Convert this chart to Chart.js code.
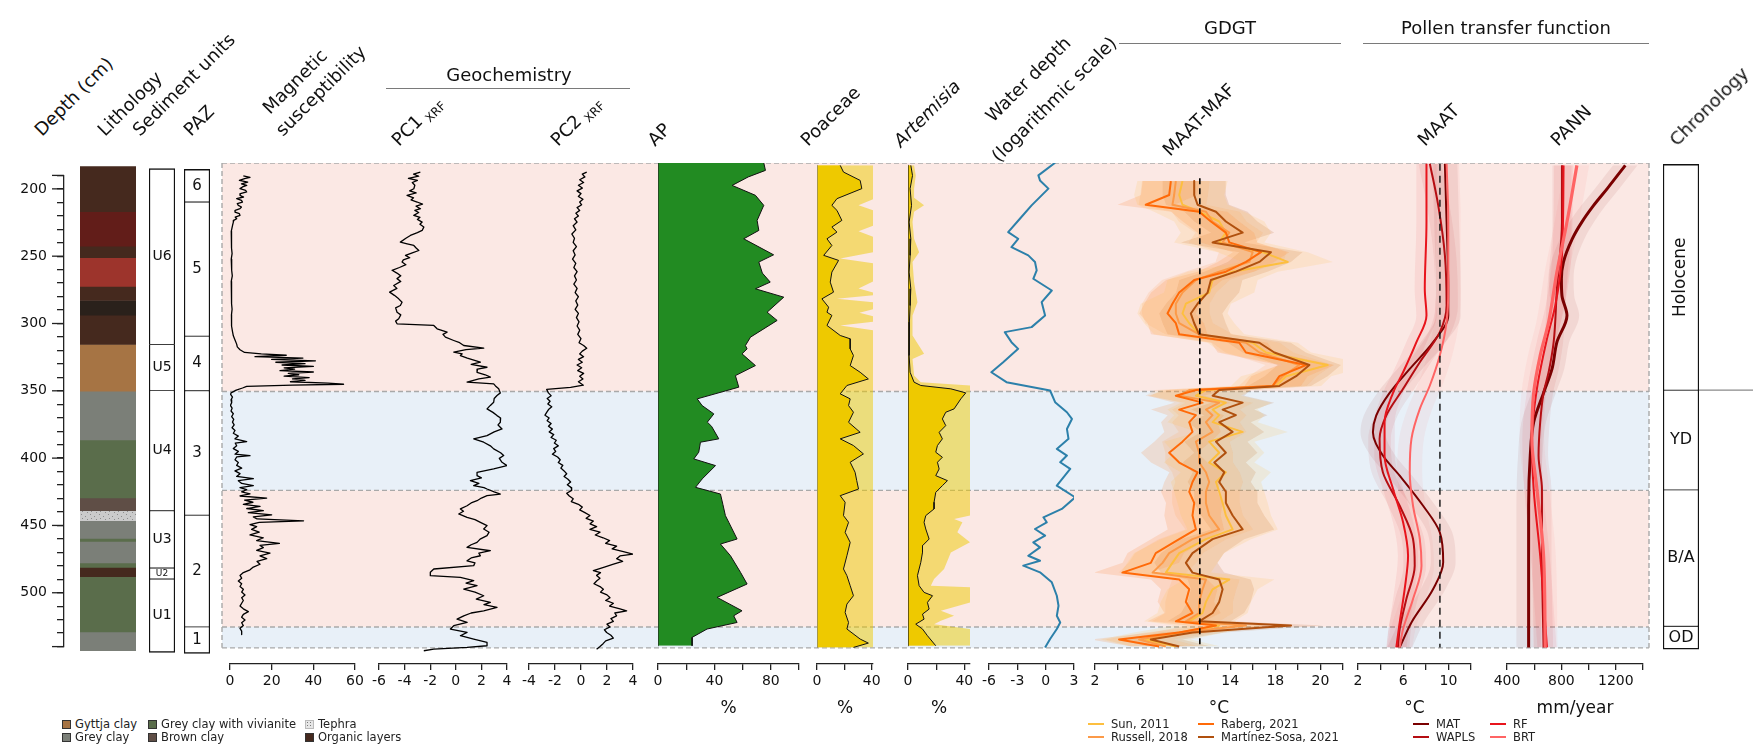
<!DOCTYPE html>
<html><head><meta charset="utf-8"><title>Core stratigraphy</title>
<script src="https://cdn.jsdelivr.net/npm/chart.js@4.4.1/dist/chart.umd.min.js"></script>
<style>
html,body{margin:0;padding:0;background:#fff;}
body{position:relative;width:1755px;height:748px;overflow:hidden;font-family:'DejaVu Sans',sans-serif;color:#111;}
#charts{position:absolute;left:0;top:0;width:1755px;height:748px;}
canvas{position:absolute;}
.hdr{position:absolute;white-space:nowrap;font-size:18px;line-height:18px;transform-origin:0 15px;transform:rotate(-45deg);}
.sub{font-size:12px;position:relative;top:5px;margin-left:4px;}
.grp{position:absolute;font-size:18px;line-height:18px;transform:translate(-50%,-50%);white-space:nowrap;}
.gline{position:absolute;height:0;border-top:1.5px solid #7a7a7a;}
.leg{position:absolute;font-size:11.5px;line-height:13px;white-space:nowrap;color:#222;}
.sw{display:inline-block;width:7px;height:7px;border:1px solid #333;margin-right:4px;vertical-align:-0.5px;}
.ln{display:inline-block;width:16px;height:0;border-top:2.5px solid;margin-right:7px;vertical-align:3px;}
</style></head><body>
<div id="charts"></div>

<div class="hdr" style="left:42px;top:122px">Depth (cm)</div>
<div class="hdr" style="left:105px;top:122px">Lithology</div>
<div class="hdr" style="left:140px;top:122px">Sediment units</div>
<div class="hdr" style="left:191px;top:122px">PAZ</div>
<div class="hdr" style="left:270px;top:100px">Magnetic</div>
<div class="hdr" style="left:283px;top:122px">susceptibility</div>
<div class="hdr" style="left:399px;top:132px">PC1<span class="sub">XRF</span></div>
<div class="hdr" style="left:558px;top:132px">PC2<span class="sub">XRF</span></div>
<div class="hdr" style="left:655px;top:132px">AP</div>
<div class="hdr" style="left:808px;top:132px">Poaceae</div>
<div class="hdr" style="left:901px;top:133px;font-style:italic">Artemisia</div>
<div class="hdr" style="left:993px;top:108px">Water depth</div>
<div class="hdr" style="left:999px;top:148px">(logarithmic scale)</div>
<div class="hdr" style="left:1170px;top:142px">MAAT-MAF</div>
<div class="hdr" style="left:1425px;top:132px">MAAT</div>
<div class="hdr" style="left:1558px;top:132px">PANN</div>
<div class="hdr" style="left:1677px;top:132px">Chronology</div>

<div class="grp" style="left:509px;top:75px">Geochemistry</div>
<div class="gline" style="left:386px;top:88px;width:244px"></div>
<div class="grp" style="left:1230px;top:28px">GDGT</div>
<div class="gline" style="left:1119px;top:43px;width:222px"></div>
<div class="grp" style="left:1506px;top:28px">Pollen transfer function</div>
<div class="gline" style="left:1363px;top:43px;width:286px"></div>

<div class="leg" style="left:62px;top:718px"><span class="sw" style="background:#a67444"></span>Gyttja clay</div>
<div class="leg" style="left:148px;top:718px"><span class="sw" style="background:#5a6d4b"></span>Grey clay with vivianite</div>
<div class="leg" style="left:305px;top:718px"><span class="sw" style="background:#e6e6e6 radial-gradient(#777 35%,transparent 40%) 0 0/3px 3px;border-color:#bbb"></span>Tephra</div>
<div class="leg" style="left:62px;top:731px"><span class="sw" style="background:#7b7f78"></span>Grey clay</div>
<div class="leg" style="left:148px;top:731px"><span class="sw" style="background:#5f4e46"></span>Brown clay</div>
<div class="leg" style="left:305px;top:731px"><span class="sw" style="background:#45291e"></span>Organic layers</div>

<div class="leg" style="left:1088px;top:718px"><span class="ln" style="border-color:#fdbf3f"></span>Sun, 2011</div>
<div class="leg" style="left:1198px;top:718px"><span class="ln" style="border-color:#ff6a08"></span>Raberg, 2021</div>
<div class="leg" style="left:1088px;top:731px"><span class="ln" style="border-color:#fc9a48"></span>Russell, 2018</div>
<div class="leg" style="left:1198px;top:731px"><span class="ln" style="border-color:#b0500e"></span>Martínez-Sosa, 2021</div>
<div class="leg" style="left:1413px;top:718px"><span class="ln" style="border-color:#7a0000"></span>MAT</div>
<div class="leg" style="left:1490px;top:718px"><span class="ln" style="border-color:#e8141c"></span>RF</div>
<div class="leg" style="left:1413px;top:731px"><span class="ln" style="border-color:#b50d12"></span>WAPLS</div>
<div class="leg" style="left:1490px;top:731px"><span class="ln" style="border-color:#ff6464"></span>BRT</div>

<script>
// ====================== DATA ======================
// climate-zone shading (depth, cm)
const bandBounds = [187, 351, 422, 520, 535];
const bandKinds  = ['warm', 'cold', 'warm', 'cold'];

// lithology column
const lithoBounds = [189.5,222,246.7,255,275.6,285.7,296.3,317.3,350.8,385.7,427.4,436.6,443.7,456.4,458.6,474.1,477.3,484,523.5,537];
const lithoKinds  = ['org','orgRed','org','orgRed2','org','orgDark','org','gyttja','grey','viv','brown','tephra','grey','viv','grey','viv','org','viv','grey'];

// sediment units, pollen assemblage zones, chronology
const unitBounds   = [191,317.3,350.4,436.6,477.7,485.6,538.3];
const unitLabels   = ['U6','U5','U4','U3','U2','U1'];
const pazBounds    = [191.5,215,311.3,350.5,439.7,519.9,539];
const pazLabels    = ['6','5','4','3','2','1'];
const chronoBounds = [188,350,421.6,519.5,536];
const chronoLabels = ['Holocene','YD','B/A','OD'];

// magnetic susceptibility [depth, value]
const magSus = [[196.3,6.4],[197.3,9.6],[198.3,7],[199.5,4.5],[200.7,8.5],[201.9,5.5],[203.1,8],[204.2,6],[205.4,4.8],[206.6,7.5],[207.8,8],[209,5],[210.2,4.8],[211.4,6.5],[212.6,3.2],[213.8,5.5],[215,6],[216.2,3.5],[217.4,4],[218.6,5.5],[219.8,4.8],[221,2.5],[222.2,2.4],[223.4,4.5],[224.6,4.8],[225.8,2.5],[227,3.2],[228.2,1.8],[229.4,1.6],[232,1.2],[236,0.6],[240,0.9],[244,0.5],[248,0.8],[252,1.0],[256,0.6],[260,0.9],[264,0.7],[268,1.1],[272,0.6],[276,0.8],[280,0.9],[284,0.5],[288,0.8],[292,1.0],[296,0.7],[300,0.6],[304,0.9],[308,1.2],[311,1.6],[314,2.4],[317,3.2],[319,3.5],[321,4.8],[323,7],[324,15],[325,27],[326,12],[327,35],[328,20],[329,41],[330,22],[331,36],[332,25],[333,40],[334,26],[335,31],[336,24],[337,40],[338,28],[339,33],[340,26],[341,38],[342,30],[343,36],[344,29],[345,47],[345.8,54.5],[346.5,30],[347.3,8],[348.5,6],[350,3],[352,0.5],[353,0.3],[355,1.2],[357,0.5],[359,0.8],[361,0.2],[363,1.0],[365,0.5],[367,1.6],[369,0.8],[371,1.8],[373,1.2],[375,2.0],[377,1.0],[379,2.4],[381,1.6],[383,4.0],[385,2.4],[387,8.0],[388,2.5],[390,3.2],[392,1.6],[394,4.0],[396,2.4],[397,9.6],[398,3.2],[400,2.4],[402,4.0],[404,3.2],[406,5.6],[408,2.4],[410,4.8],[412,3.2],[413.5,11.2],[415,4.0],[417,5.6],[418.5,11.2],[420,4.8],[421.5,8],[423,5.6],[424.5,9.6],[426,4.8],[427.5,17.6],[429,7],[430.5,11],[432,6.4],[433.5,14.4],[435,8],[436.5,16],[438,8.8],[439.5,20],[441,11.2],[442.5,13],[443.8,35.3],[445,14],[446.5,9.6],[448,12.8],[450,10.4],[452,14],[454,9.6],[456,16],[458,12.8],[460,23.7],[461.5,14.4],[463,16],[465,12.8],[467,19.2],[469,14.4],[471,17.6],[473,13],[475,14.4],[477,11.2],[479,9.6],[481,6.4],[483,4.8],[485,5.6],[487,4.0],[489,5.6],[491,4.8],[493,6.4],[495,5.6],[497,7.2],[499,5.6],[501,6.4],[503,5.6],[505,4.8],[507,6.4],[509,8.8],[511,6.4],[513,5.6],[515,7.2],[517,5.6],[519,6.4],[521,4.8],[523,5.6],[525.5,5.6]];

// XRF principal components [depth, score]
const pc1 = [[193.5,-2.77],[195,-3.3],[196.5,-2.9],[198,-3.7],[199.5,-3.0],[201,-3.4],[203,-3.2],[205.5,-3.28],[207,-3.6],[208.5,-3.1],[210.2,-3.81],[212,-3.3],[213.5,-3.5],[215,-3.02],[216.5,-2.6],[218,-3.1],[219.8,-2.76],[221,-3.2],[222.5,-2.9],[224.6,-3.28],[226,-2.8],[227.5,-3.0],[229.4,-2.63],[231,-2.8],[233,-2.5],[235.4,-2.63],[237,-3.0],[239,-3.55],[241,-3.9],[243.8,-4.33],[245,-3.8],[246.2,-3.28],[248,-3.1],[249.8,-2.89],[251.5,-3.4],[253.3,-3.93],[255,-3.6],[256.5,-4.1],[258.1,-4.2],[260,-3.9],[262,-4.4],[264,-4.98],[266,-4.6],[268,-4.3],[270,-4.59],[272,-4.3],[274.9,-4.85],[277,-4.6],[279.7,-5.17],[282,-4.8],[284.5,-4.46],[287,-4.2],[289.3,-4.33],[291,-4.7],[294.1,-4.59],[296,-4.3],[298.8,-4.46],[300.5,-4.7],[302.4,-4.59],[303.6,-1.72],[306,-1.46],[308.4,-0.68],[310,-1.0],[312,-0.81],[314.4,-0.16],[316,0.3],[318,0.62],[319.9,2.18],[321,0.8],[322.8,-0.16],[324,0.5],[325.2,0.36],[327,0.9],[330,1.92],[331.5,1.2],[333.6,2.44],[335,1.7],[337.2,1.66],[339,2.3],[340.7,2.7],[342,1.8],[344.3,0.88],[345.5,2.96],[347,3.1],[349.1,3.35],[352,3.48],[353.9,3.22],[356,3.0],[358.7,2.96],[361,2.7],[363.5,2.44],[366,2.9],[368.3,3.22],[370,3.5],[373.1,3.48],[375,3.3],[377.9,3.61],[380,3.0],[382.7,2.44],[385,1.4],[387.4,2.18],[390,2.7],[392.2,2.96],[395,3.5],[397,3.74],[399,3.4],[401.8,3.61],[404.2,4.0],[406.6,2.96],[409,1.66],[411.4,1.66],[413,2.0],[415,1.14],[417,1.8],[418.6,1.4],[420,2.2],[421,2.44],[423,3.0],[424.6,3.48],[425.8,2.44],[427.5,2.0],[429.4,1.66],[431,1.2],[433,0.88],[435.3,0.36],[437,0.6],[438.9,0.23],[441.3,0.88],[443,1.5],[444.9,1.92],[447.3,2.44],[449.7,2.18],[452,2.6],[454.5,2.44],[457,1.9],[459.3,1.66],[461,1.2],[462.9,0.88],[465.3,2.7],[467,1.8],[468.9,1.92],[470.5,1.2],[472.5,0.88],[474,1.5],[476,1.4],[478.4,-1.72],[480.8,-1.99],[483.2,-1.99],[484.4,0.36],[486.8,1.4],[488.5,0.8],[490.4,1.66],[492.8,0.62],[495,1.5],[497.6,2.18],[500,1.6],[502.4,2.7],[504,2.2],[506,3.22],[508.4,2.18],[510,1.2],[512,0.62],[514.4,0.1],[516.8,0.88],[519.1,-0.16],[521.5,-0.42],[523.9,0.88],[526.3,0.36],[528.7,1.4],[531.1,2.44],[533.5,2.44],[534.7,0.88],[535.9,-1.72],[537.1,-2.5]];
const pc2 = [[193.5,0.44],[195,0.1],[197,0.3],[199,-0.1],[201,0.2],[203,-0.2],[205,0.1],[207,-0.3],[209,0.0],[211,-0.2],[213,0.15],[215,-0.1],[217,0.05],[219,-0.3],[221,-0.1],[223,-0.4],[225,-0.2],[227,-0.5],[229.4,-0.3],[232,-0.6],[235,-0.4],[238,-0.7],[241,-0.5],[244,-0.6],[247,-0.35],[250,-0.6],[253,-0.45],[256,-0.65],[259,-0.4],[262,-0.55],[265,-0.3],[268,-0.5],[271,-0.35],[274,-0.55],[277,-0.3],[280,-0.45],[283,-0.2],[286,-0.4],[289,-0.25],[292,-0.45],[295,-0.2],[298,-0.35],[301,-0.15],[304,-0.3],[307,-0.1],[310,-0.25],[313,0.0],[316,-0.15],[318,0.2],[320,0.44],[322,0.1],[324,-0.1],[326,0.2],[328,-0.2],[330,0.1],[332,-0.3],[334,0.05],[336,-0.25],[338,0.2],[340,-0.1],[342,0.15],[344,-0.2],[346.5,0.18],[348,-0.8],[349.5,-2.64],[352,-2.51],[354,-2.3],[356,-2.6],[358,-2.38],[360,-2.55],[362,-2.25],[364,-2.5],[366,-2.64],[368,-2.77],[370,-2.45],[372,-2.6],[374,-2.3],[376,-2.5],[378,-2.2],[380,-2.45],[382,-2.1],[384,-2.3],[386,-1.9],[388,-2.05],[390,-1.75],[392,-2.1],[394,-1.95],[396,-2.2],[398,-1.8],[400,-1.6],[402,-1.75],[404,-1.4],[406,-1.55],[408,-1.3],[410,-1.1],[412,-1.3],[414,-1.0],[416,-0.8],[418,-1.05],[420,-0.75],[422,-0.72],[424,-1.1],[426,-0.9],[428,-0.6],[430,-0.75],[432,-0.2],[434,0.1],[436,-0.1],[438,0.3],[440,0.69],[442,0.4],[444,0.95],[446,0.7],[448,1.2],[450,0.69],[452,1.46],[454,1.1],[456,1.7],[458,2.2],[460,1.9],[462,2.74],[464,2.4],[466,3.26],[467.7,4.0],[469,3.0],[471,2.74],[473,3.2],[475,2.5],[477,1.8],[479.6,0.95],[481,1.5],[483,1.2],[485,1.46],[487,1.2],[489,1.0],[491,1.46],[493,1.72],[495,1.5],[497,2.0],[499,2.23],[501,1.9],[503,2.49],[505,2.2],[507,3.0],[508.4,3.51],[510,2.6],[512,2.74],[514,2.3],[516,2.49],[518,2.0],[520,2.23],[522,1.8],[524,1.97],[526,2.3],[528,2.49],[530,1.9],[532,1.7],[534,1.46],[536,1.2]];

// pollen percentages [depth, %]
const apPct = [[186.8,75],[192.3,76.2],[197,64],[203.1,52.6],[210.2,69.1],[217.4,75],[228.2,70.3],[235.4,71.5],[241.4,60.8],[252.9,82],[258.1,71.5],[266,74],[272.5,79.6],[277.3,69.1],[283.3,89.2],[294.1,77.4],[300,84.5],[312,65.6],[318,62],[320.4,63.2],[324,59.6],[332.4,69.1],[339.6,54.9],[347.9,57.3],[356.3,27.8],[361.1,31.3],[367.1,39.6],[373,35],[376,38],[385,43.1],[387.4,30.1],[394.6,28.9],[399.4,25.4],[404.2,40.8],[413.8,31.3],[419.8,26.6],[424.6,44.3],[432,46],[440.1,47.8],[444.9,50.2],[456.9,56.1],[460.5,44.3],[468.9,51.4],[480.8,58.5],[489.2,63.2],[498.8,41.9],[508.4,59.6],[512,53.7],[516.8,56.1],[521.5,34.8],[527.5,24.2],[533.5,24.2]];
const poaceaePct = [[188.7,17],[193.5,19.4],[199.5,31.6],[205.4,32.8],[212.6,14.6],[217.4,10.9],[221,14.6],[228.2,18.2],[233,10.9],[236.6,14.6],[241.4,7.3],[246.2,10.9],[253.3,4.9],[256.9,15.8],[265.3,10.9],[272.5,9.7],[279.7,12.1],[284.5,3.6],[290.5,8.5],[294.1,7.3],[296.4,10.9],[303.6,7.3],[310.8,17],[313.2,24.3],[320.4,24.3],[325.2,26.7],[332.4,24.3],[337.2,31.6],[342,37.6],[346.7,21.9],[352.7,17],[356.3,24.3],[361.1,23.1],[365.9,26.7],[373.1,23.1],[380.3,31.6],[385,17],[389.8,26.7],[395.8,34],[401.8,24.3],[409,27.9],[415,29.1],[421,30.4],[425.8,17],[430.5,20.6],[440.1,19.4],[444.9,23.1],[452.1,20.6],[459.3,24.3],[468.9,21.9],[478.4,19.4],[483.2,21.9],[490.4,24.3],[497.6,26.7],[503.6,21.9],[509.6,20.6],[516.8,23.1],[521.5,21.9],[528.7,31.6],[531.6,37.6],[534.7,26.7]];
const poaceaeExag = [[188.7,41],[213,41],[217.4,30.4],[221,41],[232,41],[236,30.4],[240,41],[251,41],[255.5,17],[259,41],[272,41],[277,30.4],[280,41],[282,41],[284.5,14.6],[287,41],[292,41],[294.5,31],[297,41],[301,41],[303.6,17],[307,41],[534.7,41]];
const artemisiaPct = [[188.7,2.0],[196,3.2],[205.4,1.5],[217.4,2.5],[229.4,0.8],[241.4,2.0],[253.3,1.5],[265.3,0.8],[277.3,2.0],[289.3,1.5],[301.2,1.0],[315.6,0.8],[325.2,0.8],[337.2,1.5],[344.3,4.3],[346.7,9.1],[349.1,30.4],[352,41],[356.3,37.5],[363.5,32.7],[365.9,26.8],[370.7,24.4],[375.5,26.8],[380.3,22.1],[385,24.4],[389.8,20.9],[394.6,19.7],[398.2,24.4],[401.8,20.9],[406.6,22.1],[411.4,19.7],[415,28],[418.6,24.4],[423.4,19.7],[430.5,18.5],[435.3,18.5],[440.1,12.6],[444.9,11.4],[449.7,12.6],[456.9,15.0],[461.7,10.3],[466.5,10.3],[473.6,9.1],[483.2,6.7],[490.4,7.9],[495.2,11.4],[497.6,17.4],[502.4,13.8],[507.2,15.0],[510.8,10.3],[514.4,11.4],[518,5.5],[521.5,10.3],[526.3,13.8],[533.5,19.7]];
const artemisiaExag = [[188.7,4.3],[196,5.5],[205.4,4.3],[212,4.3],[217.4,11.4],[222,4.3],[229.4,3.2],[241.4,4.3],[251,7.9],[258,3.2],[272.5,4.3],[287,6.7],[296.4,3.2],[310.8,3.2],[323.9,11.4],[327.6,3.2],[339.6,4.3],[344.3,9.1],[346.7,44],[440,44],[442.5,32.7],[444.9,38.6],[452.1,35],[459.3,44],[466.5,30.4],[478.4,25.6],[485.6,18.5],[490.4,16.2],[491.6,44],[502.4,44],[508.4,23.3],[512,32.7],[515.5,23.3],[518,18.5],[521.5,44],[533.5,44]];

// water depth (log-transformed) [depth, value]
const waterDepth = [[186.8,1.0],[195.9,-0.77],[199.5,-0.6],[205.4,0.29],[217.4,-1.49],[227,-2.73],[236.6,-3.97],[241.4,-2.91],[247.4,-3.62],[253.3,-1.84],[258.1,-1.13],[264.1,-0.95],[270.1,-1.31],[278.5,0.65],[286.9,-0.42],[296.4,-0.06],[304.8,-1.49],[308.4,-4.33],[315.6,-3.62],[320.4,-2.91],[330,-4.5],[337.2,-5.75],[344.3,-4.15],[350.3,0.47],[358.7,1.0],[365.9,2.25],[370.7,2.78],[377.9,2.25],[385,2.42],[392.2,1.18],[397,2.25],[401.8,1.54],[406.6,2.6],[418.6,1.18],[427,3.13],[435.3,1.71],[441.3,-0.24],[444.9,0.11],[449.7,-1.13],[454.5,-0.06],[459.3,-1.31],[462.9,-0.6],[468.9,-1.84],[472.5,-0.6],[476,-2.37],[480.8,-0.6],[488,0.65],[497.6,1.18],[504.8,1.36],[512,1.18],[516.8,1.54],[521.5,1.18],[528.7,0.47],[534.7,-0.06]];

// GDGT-based MAAT (°C), four calibrations on shared sample depths
const gdgtDepth = [200,210,217,222,229,237,244,251,258,265,271,280,288,295,302,310,316,323,332,340,347,350,354,359,364,368,373,380,387,395,402,409,416,423,431,440,450,457,467,474,481,486,493,502,510,516,519,524,529,534];
const gdgtSun      = [9.76,9.47,9.76,11.24,13.02,13.61,13.02,16.87,19.1,14.21,12.43,12.13,10.06,9.76,10.36,11.24,15.99,17.17,22.65,18.95,18.06,11.84,10.95,13.61,12.43,13.02,12.43,15.1,12.13,13.02,12.13,13.61,12.73,13.02,13.32,13.61,14.21,11.84,9.47,8.87,8.28,13.91,12.43,11.84,11.54,10.36,13.02,9.47,6.5,9.17];
const gdgtRussell  = [9.17,9.02,8.87,11.84,12.43,13.91,13.32,15.99,15.69,13.02,10.95,9.76,9.17,9.17,9.47,11.24,15.39,16.58,20.13,18.65,17.76,10.36,9.47,13.02,11.84,12.43,11.84,12.43,10.95,11.24,11.24,11.84,12.13,11.84,11.84,12.13,13.02,10.65,8.58,7.99,7.1,11.84,11.54,11.24,11.24,10.06,15.39,9.47,5.91,8.28];
const gdgtRaberg   = [8.73,8.58,6.5,11.24,12.28,13.61,13.91,16.73,15.39,13.61,10.8,9.47,8.87,8.43,9.17,9.47,14.8,15.39,20.73,18.36,17.76,10.95,9.17,11.54,9.47,10.95,10.36,10.65,9.76,8.58,9.47,11.1,10.65,10.36,10.8,10.65,10.95,9.47,7.39,6.95,4.43,9.47,10.36,10.06,10.65,9.17,12.73,9.47,4.13,7.69];
const gdgtMartinez = [10.8,10.8,11.1,12.73,13.61,15.1,12.43,17.61,16.58,14.5,12.28,11.99,11.1,10.5,10.8,11.24,16.58,17.91,21.02,19.84,18.36,13.02,12.43,15.1,13.32,14.5,13.02,14.21,12.73,13.61,12.58,13.47,13.02,13.61,13.61,14.21,15.1,12.43,10.65,10.06,10.65,13.02,13.32,13.02,12.43,11.24,19.39,10.65,6.95,9.47];
const gdgtErr = [4.0, 3.0, 2.5, 2.8];           // Sun, Russell, Raberg, Martínez-Sosa
const gdgtModern = 11.3;                        // dashed reference (°C)

// pollen transfer functions: MAAT (°C)
const maatMAT   = [[187.5,9.69],[229.4,9.84],[277.3,9.99],[296.4,9.99],[315.6,8.65],[334.8,6.58],[352,4.8],[368.3,3.61],[380.3,3.32],[397,4.2],[411.4,5.69],[433,7.76],[452.1,9.24],[473.6,9.54],[492.8,8.65],[516.8,6.73],[534.7,5.69]];
const maatWAPLS = [[187.5,8.36],[217.4,9.1],[253.3,9.69],[289.3,9.84],[308.4,9.24],[330,7.47],[349.1,5.99],[368.3,4.5],[385,3.91],[409,4.2],[433,5.69],[456.9,6.87],[476,7.02],[500,6.28],[521.5,5.69],[534.7,5.54]];
const maatRF    = [[187.5,8.06],[229.4,8.06],[277.3,7.91],[296.4,8.06],[315.6,7.17],[337.2,5.99],[352,5.1],[373.1,4.35],[397,4.35],[421,5.1],[444.9,5.99],[468.9,6.43],[492.8,6.13],[516.8,5.69],[534.7,5.39]];
const maatBRT   = [[187.5,9.84],[229.4,9.99],[277.3,9.99],[301.2,9.84],[325.2,9.24],[346.7,8.36],[363.5,7.47],[385,6.73],[409,6.58],[433,6.87],[456.9,7.47],[476,7.62],[500,6.87],[521.5,5.99],[534.7,5.69]];
const maatErr = [1.1, 1.0, 0.9, 1.1];
const maatModern = 9.25;

// pollen transfer functions: PANN (mm/year)
const pannMAT   = [[188.7,1270],[205,1140],[217.4,1037],[229.4,950],[241.4,880],[258.1,815],[270,800],[282.1,804],[296.4,841],[315.6,767],[334.8,731],[352,669],[373.1,596],[397,571],[433,559],[468.9,559],[534.7,559]];
const pannWAPLS = [[188.7,804],[229.4,804],[277.3,767],[315.6,743],[337.2,706],[352,669],[373.1,644],[397,632],[421,657],[468.9,657],[534.7,669]];
const pannRF    = [[188.7,816],[253.3,804],[289.3,755],[313.2,694],[349.1,620],[385,583],[421,596],[468.9,644],[534.7,694]];
const pannBRT   = [[188.7,914],[229.4,841],[265.3,767],[301.2,706],[325.2,644],[352,596],[385,583],[421,620],[468.9,669],[534.7,681]];
const pannErr = [90, 70, 70, 90];

// ====================== STYLE / LAYOUT ======================
const Y0 = 163, PLOT_H = 501, XAX_H = 57, DMIN = 187, DMAX = 546.6;
const AXIS = '#222';
const lithoPalette = {org:'#45291e', orgRed:'#621d19', orgRed2:'#9d342c', orgDark:'#2a211b', gyttja:'#a67444', grey:'#7b7f78', viv:'#5a6d4b', brown:'#5f4e46'};
const gdgtColors = ['#fdbf3f','#fc9a48','#ff6a08','#b0500e'];
const pollenColors = ['#7a0000','#b50d12','#e8141c','#ff6464'];

Chart.defaults.font.family = "'DejaVu Sans', sans-serif";
Chart.defaults.color = '#111';

const holder = document.getElementById('charts');
function makeCanvas(left, top, w, h){
  const c = document.createElement('canvas');
  c.width = Math.round(w); c.height = Math.round(h);
  c.style.left = Math.round(left)+'px'; c.style.top = Math.round(top)+'px';
  c.style.width = Math.round(w)+'px'; c.style.height = Math.round(h)+'px';
  holder.appendChild(c);
  return c;
}
function rgba(hex, a){ const n=parseInt(hex.slice(1),16); return `rgba(${n>>16},${(n>>8)&255},${n&255},${a})`; }
const pts = arr => arr.map(([d,v]) => ({x:v, y:d}));

const baseOpts = () => ({responsive:false, animation:false, events:[], plugins:{legend:{display:false}, tooltip:{enabled:false}}});

// ---------- background bands ----------
const bandPlugin = {
  id:'bands',
  beforeDraw(chart, args, o){
    const y = chart.scales.y, ctx = chart.ctx;
    ctx.save();
    for (let i=0;i<bandKinds.length;i++){
      const a = y.getPixelForValue(bandBounds[i]), b = y.getPixelForValue(bandBounds[i+1]);
      ctx.fillStyle = o.colors[bandKinds[i]];
      ctx.fillRect(o.x0, a, o.x1-o.x0, b-a);
    }
    ctx.strokeStyle = '#a9a9a9'; ctx.lineWidth = 1.4; ctx.setLineDash([5,3]);
    bandBounds.forEach(d => { const yy = y.getPixelForValue(d); ctx.beginPath(); ctx.moveTo(o.x0,yy); ctx.lineTo(o.x1,yy); ctx.stroke(); });
    const yt = y.getPixelForValue(bandBounds[0]), yb = y.getPixelForValue(bandBounds[bandBounds.length-1]);
    [o.x0,o.x1].forEach(x => { ctx.beginPath(); ctx.moveTo(x,yt); ctx.lineTo(x,yb); ctx.stroke(); });
    ctx.setLineDash([]); ctx.strokeStyle = '#8a8a8a'; ctx.lineWidth = 1.3;
    const ys = y.getPixelForValue(chronoBounds[1]);
    ctx.beginPath(); ctx.moveTo(o.s0, ys); ctx.lineTo(o.s1, ys); ctx.stroke();
    ctx.restore();
  }
};
{
  const c = makeCanvas(0, Y0, 1755, PLOT_H);
  const o = baseOpts();
  o.plugins.bands = {x0:222, x1:1649, s0:1699, s1:1753, colors:{warm:'#fbe8e4', cold:'#e8f0f8'}};
  o.scales = {x:{type:'linear', display:false, min:0, max:1}, y:{type:'linear', display:false, min:DMIN, max:DMAX, reverse:true}};
  new Chart(c, {type:'line', data:{datasets:[]}, options:o, plugins:[bandPlugin]});
}

// ---------- depth axis ----------
const majorTickPlugin = {
  id:'majorTicks',
  afterDraw(chart){
    const s = chart.scales.y, ctx = chart.ctx;
    ctx.save(); ctx.strokeStyle = AXIS; ctx.lineWidth = 1.3;
    s.ticks.forEach(t => {
      if (t.value % 50 === 0 || t.value === s.min || t.value === s.max){
        const yy = s.getPixelForValue(t.value);
        ctx.beginPath(); ctx.moveTo(s.right-12, yy); ctx.lineTo(s.right, yy); ctx.stroke();
      }
    });
    ctx.restore();
  }
};
{
  const c = makeCanvas(0, 157, 84, 508);
  const o = baseOpts();
  o.layout = {padding:{top:10, bottom:10, left:0, right:0}};
  o.scales = {
    x:{display:false},
    y:{type:'linear', min:190, max:540, reverse:true, position:'left',
       border:{display:true, color:AXIS, width:1.3},
       grid:{display:true, drawOnChartArea:false, tickLength:7, color:AXIS, lineWidth:1.3},
       ticks:{stepSize:10, autoSkip:false, padding:10, font:{size:14}, color:'#111', callback:v => v%50===0 ? String(v) : ''},
       afterFit(s){ s.width = 64; }}
  };
  new Chart(c, {type:'line', data:{datasets:[]}, options:o, plugins:[majorTickPlugin]});
}

// ---------- box columns (lithology, units, PAZ, chronology) ----------
const boxLabelPlugin = {
  id:'boxLabels',
  afterDatasetsDraw(chart, args, o){
    if (!o.labels) return;
    const ctx = chart.ctx;
    o.labels.forEach((lab, i) => {
      const el = chart.getDatasetMeta(i).data[0];
      if (!el || !lab) return;
      ctx.save();
      ctx.fillStyle = '#111';
      ctx.font = `${(o.sizes && o.sizes[i]) || o.size}px 'DejaVu Sans', sans-serif`;
      ctx.textAlign = 'center'; ctx.textBaseline = 'middle';
      ctx.translate(el.x, (el.y + el.base)/2);
      if (o.rotate && o.rotate[i]) ctx.rotate(-Math.PI/2);
      ctx.fillText(lab, 0, 0);
      ctx.restore();
    });
  }
};
function boxColumn(left, right, bounds, colors, bw, labelOpts){
  const c = makeCanvas(left, Y0, right-left, PLOT_H);
  const n = bounds.length - 1;
  const datasets = [];
  for (let i=0;i<n;i++){
    datasets.push({
      data:[[bounds[i], bounds[i+1]]], backgroundColor: colors[i], borderColor:'#111',
      borderWidth: bw ? {left:bw, right:bw, top: i===0 ? bw : bw/2, bottom: i===n-1 ? bw : bw/2} : 0,
      borderSkipped:false, grouped:false, barPercentage:1, categoryPercentage:1
    });
  }
  const o = baseOpts();
  o.layout = {padding:0};
  o.plugins.boxLabels = labelOpts || {};
  o.scales = {x:{display:false}, y:{type:'linear', display:false, min:DMIN, max:DMAX, reverse:true}};
  return new Chart(c, {type:'bar', data:{labels:['c'], datasets}, options:o, plugins:[boxLabelPlugin]});
}
function tephraPattern(){
  const p = document.createElement('canvas'); p.width = 9; p.height = 7;
  const g = p.getContext('2d');
  g.fillStyle = '#cbcbcb'; g.fillRect(0,0,9,7);
  g.fillStyle = '#8c8c8c'; g.fillRect(1,1,1,1); g.fillRect(5,3,1,1); g.fillRect(2,5,1,1); g.fillRect(7,6,1,1);
  return g.createPattern(p, 'repeat');
}
const tephraFill = tephraPattern();
boxColumn(80, 136, lithoBounds, lithoKinds.map(k => k === 'tephra' ? tephraFill : lithoPalette[k]), 0);
boxColumn(149, 175, unitBounds, unitBounds.slice(1).map(() => '#fff'), 1.5,
  {labels:unitLabels, size:14, sizes:[14,14,14,14,9,14]});
boxColumn(184, 210, pazBounds, pazBounds.slice(1).map(() => '#fff'), 1.5, {labels:pazLabels, size:15});
boxColumn(1663, 1699, chronoBounds, chronoBounds.slice(1).map(() => '#fff'), 1.5,
  {labels:chronoLabels, size:16, sizes:[17,16,16,16], rotate:[true,false,false,false]});

// ---------- profile panels ----------
function panel(cfg){
  const pad = 22;
  const c = makeCanvas(cfg.left - pad, Y0, cfg.right - cfg.left + 2*pad, PLOT_H + XAX_H);
  const o = baseOpts();
  o.indexAxis = 'y';
  o.layout = {padding:{left:pad, right:pad, top:0, bottom:0}};
  o.elements = {point:{radius:0}, line:{tension:0, borderJoinStyle:'round'}};
  o.scales = {
    y:{type:'linear', min:DMIN, max:DMAX, reverse:true, display:false},
    x:{type:'linear', min:cfg.min, max:cfg.max, position:'bottom',
       border:{display:true, color:AXIS, width:1.3},
       grid:{display:true, drawOnChartArea:false, drawTicks:true, tickLength:6, color:AXIS, lineWidth:1.3},
       ticks:{stepSize:cfg.step, autoSkip:false, maxRotation:0, minRotation:0, includeBounds:false, padding:3,
              color:'#111', font:{size:14}, callback: cfg.fmt || (v => String(v))},
       title:{display:!!cfg.unit, text:cfg.unit || '', color:'#111', font:{size:17}, padding:{top:2, bottom:2}},
       afterFit(s){ s.height = XAX_H; }}
  };
  return new Chart(c, {type:'line', data:{datasets:cfg.datasets}, options:o});
}
const only = list => v => list.includes(v) ? String(v) : '';
const profile = (arr, color, width, extra) => Object.assign({data:pts(arr), borderColor:color, borderWidth:width, pointRadius:0, fill:false}, extra || {});
const baseline = (arr, color) => ({data:[{x:0, y:arr[0][0]}, {x:0, y:arr[arr.length-1][0]}], borderColor:color, borderWidth:1.2, pointRadius:0, fill:false, order:-1});
function envelope(arr, err, color, alpha, order, smooth){
  const common = {borderWidth:0, pointRadius:0, order, cubicInterpolationMode: smooth ? 'monotone' : 'default'};
  return [
    Object.assign({data: arr.map(([d,v]) => ({x:v-err, y:d})), fill:false}, common),
    Object.assign({data: arr.map(([d,v]) => ({x:v+err, y:d})), fill:'-1', backgroundColor: rgba(color, alpha)}, common)
  ];
}

panel({left:230, right:355, min:0, max:60, step:20, datasets:[profile(magSus,'#000',1.3)]});
panel({left:379, right:507, min:-6, max:4, step:2, datasets:[profile(pc1,'#000',1.3)]});
panel({left:529, right:633, min:-4, max:4, step:2, datasets:[profile(pc2,'#000',1.3)]});
panel({left:658, right:799, min:0, max:100, step:20, unit:'%', fmt:only([0,40,80]),
  datasets:[profile(apPct,'#111',1, {fill:'origin', backgroundColor:'#228b22'}), baseline(apPct,'#222')]});
panel({left:817, right:873, min:0, max:41, step:20, unit:'%', fmt:only([0,40]),
  datasets:[profile(poaceaePct,'#111',1, {fill:'origin', backgroundColor:'#eec900', order:0}),
            profile(poaceaeExag,'rgba(0,0,0,0)',0, {fill:'origin', backgroundColor:'rgba(238,201,0,0.5)', order:2}),
            baseline(poaceaePct,'#777')]});
panel({left:908, right:970, min:0, max:44, step:20, unit:'%', fmt:only([0,40]),
  datasets:[profile(artemisiaPct,'#111',1, {fill:'origin', backgroundColor:'#eec900', order:0}),
            profile(artemisiaExag,'rgba(0,0,0,0)',0, {fill:'origin', backgroundColor:'rgba(238,201,0,0.5)', order:2}),
            baseline(artemisiaPct,'#111')]});
panel({left:989, right:1074, min:-6, max:3, step:3, datasets:[profile(waterDepth,'#2c80aa',2)]});

// GDGT
{
  const series = [gdgtSun, gdgtRussell, gdgtRaberg, gdgtMartinez].map(vals => vals.map((v,i) => [gdgtDepth[i], v]));
  const ds = [];
  series.forEach((s,i) => ds.push(...envelope(s, gdgtErr[i], gdgtColors[i], 0.15, 10, false)));
  series.forEach((s,i) => ds.push(profile(s, gdgtColors[i], 2, {order: 4-i})));
  ds.push({data:[{x:gdgtModern, y:gdgtDepth[0]-2}, {x:gdgtModern, y:gdgtDepth[gdgtDepth.length-1]}], borderColor:'#000', borderWidth:1.6, borderDash:[6,4], pointRadius:0, fill:false, order:-2});
  const gdgtTickText = {2:'2', 6:'6', 10:'10', 14:'14', 18:'18', 22:'20'};
  panel({left:1095, right:1343, min:2, max:24, step:2, unit:'°C', fmt:v => gdgtTickText[v] || '', datasets:ds});
}
// Pollen MAAT
{
  const series = [maatMAT, maatWAPLS, maatRF, maatBRT];
  const ds = [];
  series.forEach((s,i) => ds.push(...envelope(s, maatErr[i], pollenColors[i], 0.07, 10, true)));
  series.forEach((s,i) => ds.push(profile(s, pollenColors[i], 2, {cubicInterpolationMode:'monotone', order:4-i})));
  ds.push({data:[{x:maatModern, y:maatMAT[0][0]}, {x:maatModern, y:maatMAT[maatMAT.length-1][0]}], borderColor:'#111', borderWidth:1.4, borderDash:[7,5], pointRadius:0, fill:false, order:-2});
  panel({left:1358, right:1471, min:2, max:12, step:2, unit:'°C', fmt:only([2,6,10]), datasets:ds});
}
// Pollen PANN
{
  const series = [pannMAT, pannWAPLS, pannRF, pannBRT];
  const widths = [3, 2, 2, 3.2];
  const ds = [];
  series.forEach((s,i) => ds.push(...envelope(s, pannErr[i], pollenColors[i], 0.07, 10, true)));
  series.forEach((s,i) => ds.push(profile(s, pollenColors[i], widths[i], {cubicInterpolationMode:'monotone', order:4-i})));
  panel({left:1507, right:1643, min:400, max:1400, step:200, unit:'mm/year', fmt:only([400,800,1200]), datasets:ds});
}
</script>
</body></html>
